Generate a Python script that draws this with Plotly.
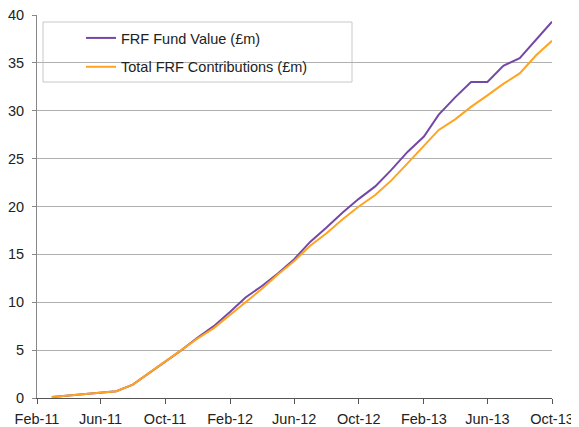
import plotly.graph_objects as go

months = ["2011-03-01", "2011-04-01", "2011-05-01", "2011-06-01", "2011-07-01", "2011-08-01",
          "2011-09-01", "2011-10-01", "2011-11-01", "2011-12-01", "2012-01-01", "2012-02-01",
          "2012-03-01", "2012-04-01", "2012-05-01", "2012-06-01", "2012-07-01", "2012-08-01",
          "2012-09-01", "2012-10-01", "2012-11-01", "2012-12-01", "2013-01-01", "2013-02-01",
          "2013-03-01", "2013-04-01", "2013-05-01", "2013-06-01", "2013-07-01", "2013-08-01",
          "2013-09-01", "2013-10-01"]

fund_value = [0.1, 0.25, 0.4, 0.55, 0.7, 1.4, 2.6, 3.8, 5.0, 6.3, 7.5, 9.0,
              10.5, 11.7, 13.0, 14.5, 16.3, 17.8, 19.4, 20.8, 22.1, 23.8, 25.7, 27.3,
              29.6, 31.4, 33.0, 33.0, 34.7, 35.5, 37.4, 39.3]

contributions = [0.1, 0.25, 0.4, 0.55, 0.7, 1.4, 2.6, 3.8, 5.0, 6.2, 7.3, 8.7,
                 10.0, 11.4, 12.9, 14.3, 15.9, 17.2, 18.7, 20.0, 21.2, 22.7, 24.5, 26.3,
                 28.0, 29.1, 30.4, 31.6, 32.8, 33.9, 35.8, 37.3]

tick_dates = ["2011-02-01", "2011-06-01", "2011-10-01", "2012-02-01", "2012-06-01",
              "2012-10-01", "2013-02-01", "2013-06-01", "2013-10-01"]
tick_text = ["Feb-11", "Jun-11", "Oct-11", "Feb-12", "Jun-12", "Oct-12", "Feb-13", "Jun-13", "Oct-13"]

names = ["FRF Fund Value (£m)", "Total FRF Contributions (£m)"]
colors = ["#7448A6", "#FFA41F"]

fig = go.Figure()
fig.add_trace(go.Scatter(x=months, y=fund_value, mode="lines", name=names[0],
                         line=dict(color=colors[0], width=2), legendgroup="a"))
fig.add_trace(go.Scatter(x=months, y=contributions, mode="lines", name=names[1],
                         line=dict(color=colors[1], width=2), legendgroup="b"))

font = "Liberation Sans, Arial, sans-serif"

# The page body adds an 8px offset; figure is sized so the plot area lands at
# screen x 37..552, y 15..398.
PW, PH = 515, 383

fig.add_shape(type="rect", xref="paper", yref="paper",
              x0=(43 - 37) / PW, x1=(352 - 37) / PW,
              y0=(398 - 82) / PH, y1=(398 - 22) / PH,
              line=dict(color="#C8C8C8", width=1), fillcolor="white", layer="below")

fig.update_layout(
    width=571, height=419,
    margin=dict(l=29, r=27, t=7, b=29),
    paper_bgcolor="white", plot_bgcolor="white",
    font=dict(family=font, size=14, color="#222222"),
    showlegend=True,
    legend=dict(x=(81 - 37) / PW, y=(398 - 22) / PH, xanchor="left", yanchor="top",
                bgcolor="rgba(0,0,0,0)", borderwidth=0,
                font=dict(family=font, size=14.5, color="#222222"),
                tracegroupgap=7, traceorder="grouped"),
    xaxis=dict(type="date", range=["2011-02-01", "2013-10-01"],
               tickvals=tick_dates, ticktext=tick_text, automargin=False,
               showgrid=False, showline=True, linecolor="#555555", linewidth=1,
               ticks="outside", ticklen=5, tickcolor="#555555", ticklabelstandoff=3,
               ticklabeloverflow="allow",
               tickfont=dict(family=font, size=14.5, color="#222222")),
    yaxis=dict(range=[0, 40], dtick=5, tick0=0, automargin=False,
               showgrid=True, gridcolor="#B0B0B0", gridwidth=1,
               showline=True, linecolor="#888888", linewidth=1,
               ticks="outside", ticklen=4, tickcolor="#888888", ticklabelstandoff=5,
               ticklabeloverflow="allow",
               zeroline=False,
               tickfont=dict(family=font, size=14.5, color="#222222")),
)

fig.write_html("out.html")
